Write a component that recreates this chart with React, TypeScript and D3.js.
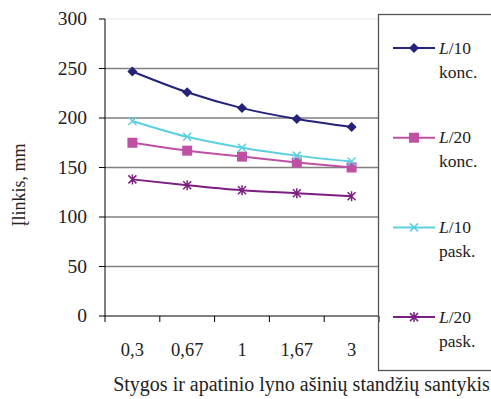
import React from 'react';
import * as d3 from 'd3';

const categories = ['0,3', '0,67', '1', '1,67', '3'];
const l10konc = [247, 226, 210, 199, 191];
const l20konc = [175, 167, 161, 155, 150];
const l10pask = [197, 181, 170, 162, 156];
const l20pask = [138, 132, 127, 124, 121];
const yTicks = [0, 50, 100, 150, 200, 250, 300];

const series = [
  { name: 'L/10', sub: 'konc.', values: l10konc, color: '#23237a', marker: 'diamond' },
  { name: 'L/20', sub: 'konc.', values: l20konc, color: '#c050a4', marker: 'square' },
  { name: 'L/10', sub: 'pask.', values: l10pask, color: '#5ccfe0', marker: 'x' },
  { name: 'L/20', sub: 'pask.', values: l20pask, color: '#7d1f82', marker: 'star' },
];

function Marker({ type, x, y, color }) {
  if (type === 'diamond') {
    return <path d={`M${x},${y - 5}L${x + 5},${y}L${x},${y + 5}L${x - 5},${y}Z`} fill={color} />;
  }
  if (type === 'square') {
    return <rect x={x - 5} y={y - 5} width={10} height={10} fill={color} />;
  }
  if (type === 'x') {
    return (
      <path d={`M${x - 4},${y - 4}L${x + 4},${y + 4}M${x - 4},${y + 4}L${x + 4},${y - 4}`}
        stroke={color} strokeWidth={1.5} />
    );
  }
  return (
    <path
      d={`M${x - 4},${y - 4}L${x + 4},${y + 4}M${x - 4},${y + 4}L${x + 4},${y - 4}M${x},${y - 5}L${x},${y + 5}`}
      stroke={color} strokeWidth={1.5} />
  );
}

export default function App() {
  const left = 105, right = 379, top = 19, bottom = 316;
  const x = d3.scaleBand().domain(categories).range([left, right]);
  const y = d3.scaleLinear().domain([0, 300]).range([bottom, top]);
  const line = d3.line<number>()
    .x((_, i) => x(categories[i])! + x.bandwidth() / 2)
    .y((d) => y(d))
    .curve(d3.curveMonotoneX);

  return (
    <svg width={491} height={399}
      style={{ position: 'absolute', left: 0, top: 0, fontFamily: 'Liberation Serif' }}>
      <rect width={491} height={399} fill="#fff" />
      {yTicks.map((t) => (
        <g key={t}>
          {t > 0 && (
            <line x1={left} x2={right} y1={y(t)} y2={y(t)}
              stroke={t === 300 ? '#eeeeee' : '#808080'} strokeWidth={1.3} />
          )}
          <line x1={left - 6} x2={left} y1={y(t)} y2={y(t)} stroke="#000" />
          <text x={87} y={y(t)} dy="0.33em" textAnchor="end" fontSize={19.5} fill="#222">{t}</text>
        </g>
      ))}
      <line x1={left} x2={left} y1={top} y2={bottom} stroke="#000" />
      <line x1={left} x2={right} y1={bottom} y2={bottom} stroke="#000" />
      {categories.map((c) => (
        <g key={c}>
          <line x1={x(c)!} x2={x(c)!} y1={bottom} y2={bottom + 6} stroke="#000" />
          <text x={x(c)! + x.bandwidth() / 2} y={356} textAnchor="middle" fontSize={18.5} fill="#222">{c}</text>
        </g>
      ))}
      <line x1={right} x2={right} y1={bottom} y2={bottom + 6} stroke="#000" />

      {series.map((s, si) => (
        <g key={si}>
          <path d={line(s.values)!} fill="none" stroke={s.color} strokeWidth={2} />
          {s.values.map((v, i) => (
            <Marker key={i} type={s.marker} x={x(categories[i])! + x.bandwidth() / 2} y={y(v)} color={s.color} />
          ))}
        </g>
      ))}

      <text transform="translate(25,185) rotate(-90)" textAnchor="middle" fontSize={18} fill="#222">
        Įlinkis, mm
      </text>
      <text x={301.5} y={391} textAnchor="middle" fontSize={20} fill="#222">
        Stygos ir apatinio lyno ašinių standžių santykis
      </text>

      <rect x={378.5} y={14.5} width={120} height={356} fill="none" stroke="#555" strokeWidth={1.3} />
      {series.map((s, i) => {
        const ly = 48 + i * 89.7;
        return (
          <g key={i}>
            <line x1={393} x2={435} y1={ly} y2={ly} stroke={s.color} strokeWidth={2} />
            <Marker type={s.marker} x={414} y={ly} color={s.color} />
            <text x={439} y={ly} dy="0.33em" fontSize={17.5} fill="#222">
              <tspan fontStyle="italic">L</tspan>{s.name.slice(1)}
            </text>
            <text x={439} y={ly + 24} dy="0.33em" fontSize={17.5} fill="#222">{s.sub}</text>
          </g>
        );
      })}
    </svg>
  );
}
